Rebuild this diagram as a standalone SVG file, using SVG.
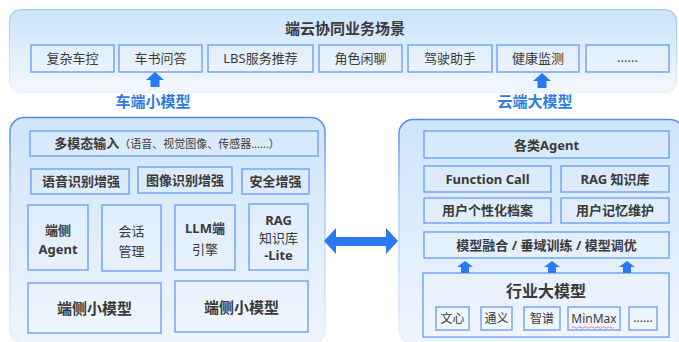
<svg xmlns="http://www.w3.org/2000/svg" width="679" height="342" viewBox="0 0 679 342">
<defs>
<linearGradient id="gTop" x1="0" y1="0" x2="0" y2="1">
<stop offset="0" stop-color="#cae3fb"/>
<stop offset="1" stop-color="#f3f8fe"/>
</linearGradient>
<linearGradient id="gTopS" x1="0" y1="0" x2="0" y2="1">
<stop offset="0" stop-color="#9fc6f2"/>
<stop offset="1" stop-color="#e6f0fc"/>
</linearGradient>
<linearGradient id="gPanel" x1="0" y1="0" x2="0" y2="1">
<stop offset="0" stop-color="#cfe5fb"/>
<stop offset="1" stop-color="#eef5fe"/>
</linearGradient>
<linearGradient id="gPanelS" x1="0" y1="0" x2="0" y2="1">
<stop offset="0" stop-color="#4a8fe2"/>
<stop offset="0.35" stop-color="#a9cbf3"/>
<stop offset="1" stop-color="#e8f1fc"/>
</linearGradient>
</defs>
<style>
.box{fill:#ffffff;fill-opacity:0.12;stroke:#74a6f5;stroke-width:1.5}
.t{font-family:"Noto Sans","Noto Sans CJK SC",sans-serif;fill:#3a3a3a;text-anchor:middle}
.n{font-size:13px}
.b{font-size:13px;font-weight:bold}
.s{font-size:12px}
.big{font-size:15px;font-weight:bold}
.lbl{font-family:"Noto Sans","Noto Sans CJK SC",sans-serif;font-size:15px;font-weight:bold;fill:#2f7be6;text-anchor:middle}
.arr{fill:#2a78f2}
</style>

<g id="top-panel">
<rect x="9.5" y="9.5" width="667" height="83" rx="12" fill="url(#gTop)" stroke="url(#gTopS)" stroke-width="1.2"/>
<text class="t" x="345" y="34" font-size="15" font-weight="bold">端云协同业务场景</text>
</g>
<g id="s1"><rect class="box" x="31" y="45" width="83" height="27"/><text class="t n" x="72.5" y="63">复杂车控</text></g>
<g id="s2"><rect class="box" x="119" y="45" width="83" height="27"/><text class="t n" x="160.5" y="63">车书问答</text></g>
<g id="s3"><rect class="box" x="208" y="45" width="105" height="27"/><text class="t n" x="260.5" y="63">LBS服务推荐</text></g>
<g id="s4"><rect class="box" x="319" y="45" width="83" height="27"/><text class="t n" x="360.5" y="63">角色闲聊</text></g>
<g id="s5"><rect class="box" x="408" y="45" width="84" height="27"/><text class="t n" x="450" y="63">驾驶助手</text></g>
<g id="s6"><rect class="box" x="497" y="45" width="82" height="27"/><text class="t n" x="538" y="63">健康监测</text></g>
<g id="s7"><rect class="box" x="586" y="45" width="83" height="27"/><text class="t n" x="627.5" y="62">......</text></g>

<g id="left-panel">
<rect x="10" y="117.5" width="315" height="226" rx="14" fill="url(#gPanel)" stroke="url(#gPanelS)" stroke-width="1.5"/>
</g>
<g id="l-input"><rect class="box" x="30" y="131" width="288" height="25"/><text class="t" x="167" y="148"><tspan font-size="13" font-weight="bold">多模态输入</tspan><tspan font-size="11">（语音、视觉图像、传感器......）</tspan></text></g>
<g id="l-asr"><rect class="box" x="31" y="169" width="98" height="25"/><text class="t b" x="81" y="186">语音识别增强</text></g>
<g id="l-img"><rect class="box" x="138" y="167" width="94" height="26"/><text class="t b" x="185" y="185">图像识别增强</text></g>
<g id="l-sec"><rect class="box" x="242" y="169" width="67" height="25"/><text class="t b" x="275.5" y="186">安全增强</text></g>
<g id="l-agent"><rect class="box" x="28" y="205" width="60" height="65"/><text class="t b" x="58" y="235">端侧</text><text class="t b" x="58" y="254">Agent</text></g>
<g id="l-dialog"><rect class="box" x="102" y="205" width="59" height="66"/><text class="t n" x="131.5" y="236">会话</text><text class="t n" x="131.5" y="256">管理</text></g>
<g id="l-llm"><rect class="box" x="175" y="205" width="60" height="65"/><text class="t b" x="205" y="233">LLM端</text><text class="t n" x="205" y="254">引擎</text></g>
<g id="l-rag"><rect class="box" x="249" y="204" width="59" height="66"/><text class="t b" x="278.5" y="225">RAG</text><text class="t n" x="278.5" y="243">知识库</text><text class="t b" x="278.5" y="260">-Lite</text></g>
<g id="l-sm1"><rect class="box" x="28" y="283" width="133" height="50"/><text class="t big" x="94.5" y="314">端侧小模型</text></g>
<g id="l-sm2"><rect class="box" x="175" y="281" width="133" height="51"/><text class="t big" x="241.5" y="313">端侧小模型</text></g>

<g id="right-panel">
<rect x="399" y="119.5" width="285" height="224" rx="14" fill="url(#gPanel)" stroke="url(#gPanelS)" stroke-width="1.5"/>
</g>
<g id="r-agent"><rect class="box" x="424" y="131" width="245" height="27"/><text class="t b" x="546.5" y="150">各类Agent</text></g>
<g id="r-fc"><rect class="box" x="424" y="166" width="127" height="26"/><text class="t b" x="487.5" y="184">Function Call</text></g>
<g id="r-rag"><rect class="box" x="561" y="166" width="108" height="26"/><text class="t b" x="615" y="184">RAG 知识库</text></g>
<g id="r-prof"><rect class="box" x="424" y="198" width="127" height="25"/><text class="t b" x="487.5" y="215">用户个性化档案</text></g>
<g id="r-mem"><rect class="box" x="561" y="198" width="108" height="25"/><text class="t b" x="615" y="215">用户记忆维护</text></g>
<g id="r-fuse"><rect class="box" x="424" y="232" width="245" height="26"/><text class="t b" x="546.5" y="250">模型融合 / 垂域训练 / 模型调优</text></g>
<g id="r-ind">
<rect class="box" x="423" y="273" width="246" height="64"/>
<text class="t" x="546" y="297" font-size="16" font-weight="bold">行业大模型</text>
</g>
<g id="m1"><rect class="box" x="436" y="307" width="33" height="23"/><text class="t s" x="452.5" y="323">文心</text></g>
<g id="m2"><rect class="box" x="481" y="307" width="31" height="23"/><text class="t s" x="496.5" y="323">通义</text></g>
<g id="m3"><rect class="box" x="524" y="307" width="36" height="23"/><text class="t s" x="542" y="323">智谱</text></g>
<g id="m4"><rect class="box" x="568" y="307" width="52" height="23"/><text class="t s" x="594" y="323">MinMax</text>
<path d="M572 327.5 q1.5 -1.5 3 0 t3 0 t3 0 t3 0 t3 0 t3 0 t3 0 t3 0 t3 0 t3 0 t3 0 t3 0 t3 0 t3 0" fill="none" stroke="#e05555" stroke-width="0.7"/></g>
<g id="m5"><rect class="box" x="629" y="307" width="28" height="23"/><text class="t s" x="643" y="322">......</text></g>

<g id="connectors">
<path class="arr" d="M155 72 L164 80 L159.5 80 L159.5 87 L150.5 87 L150.5 80 L146 80 Z"/>
<path class="arr" d="M542 73 L551 81 L546.5 81 L546.5 88 L537.5 88 L537.5 81 L533 81 Z"/>
<path class="arr" d="M324 241 L336 228 L336 237 L386 237 L386 228 L398 241 L386 254 L386 246 L336 246 L336 254 Z"/>
<path class="arr" d="M465 261 L473 267 L469 267 L469 273 L461 273 L461 267 L457 267 Z"/>
<path class="arr" d="M552 261 L560 267 L556 267 L556 273 L548 273 L548 267 L544 267 Z"/>
<path class="arr" d="M627 261 L635 267 L631 267 L631 273 L623 273 L623 267 L619 267 Z"/>
</g>
<text class="lbl" x="153" y="107">车端小模型</text>
<text class="lbl" x="535" y="107">云端大模型</text>
</svg>
